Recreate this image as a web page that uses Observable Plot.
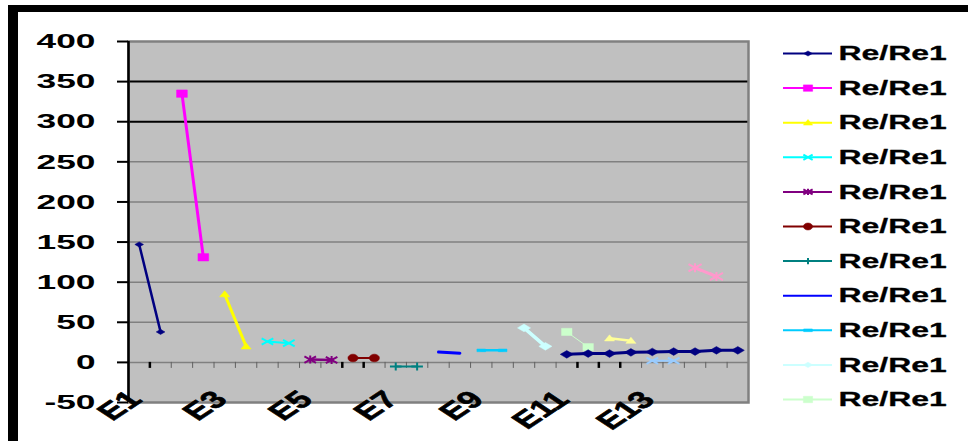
<!DOCTYPE html>
<html>
<head>
<meta charset="utf-8">
<script src="https://cdn.jsdelivr.net/npm/d3@7"></script>
<script src="https://cdn.jsdelivr.net/npm/@observablehq/plot@0.6"></script>
<style>
  body { margin: 0; background: #fff; }
  #wrap { position: relative; width: 968px; height: 441px; overflow: hidden; background: #fff;
          font-family: "Liberation Sans", Arial, sans-serif; }
  .bar { position: absolute; background: #000; }
  #wrap svg { position: absolute; top: 0; overflow: visible; }
</style>
</head>
<body>
<div id="wrap">
  <div class="bar" style="left:8px;top:5px;width:960px;height:7px"></div>
  <div class="bar" style="left:8px;top:5px;width:10px;height:436px"></div>
</div>
<script>
// ---- data ----
const seriesNames = ["Re/Re1","Re/Re1","Re/Re1","Re/Re1","Re/Re1","Re/Re1","Re/Re1","Re/Re1",
                     "Re/Re1","Re/Re1","Re/Re1","Re/Re1","Re/Re1","Re/Re1","Re/Re1"];
// first category (1-based) of each series
const seriesStart = [1, 3, 5, 7, 9, 11, 13, 15, 17, 19, 21, 23, 25, 27, 21];
const seriesValues = [
  [147, 38],
  [335, 131],
  [85, 20],
  [26, 24],
  [3.5, 3],
  [5.5, 5.5],
  [-5, -5],
  [13, 11.5],
  [15, 15],
  [43, 20],
  [38, 19],
  [30, 27],
  [2, 2],
  [118, 107],
  [10, 11, 11, 12.5, 13, 13.5, 13.5, 15, 15]
];
const categoryCount = 29;
const xLabels = ["E1", "E3", "E5", "E7", "E9", "E11", "E13"];
const xLabelCats = [1, 5, 9, 13, 17, 21, 25];
const yTicks = [-50, 0, 50, 100, 150, 200, 250, 300, 350, 400];
const darkGrid = [300, 350];
const darkTicks = [1, 10, 11, 21, 22, 23];
const legendCount = 11;

// ---- styles ----
const colors = ["#000080","#FF00FF","#FFFF00","#00FFFF","#800080","#800000","#008080","#0000FF",
                "#00CCFF","#CCFFFF","#CCFFCC","#FFFF99","#99CCFF","#FF99CC","#000080"];
const widths = [2.5, 3, 3, 2, 2.5, 2, 2, 3, 2.5, 3.5, 1, 2.5, 2, 3, 3];
const markers = ["diamond","square","triangle","times","star","circle","plus","none",
                 "dash","diamond","square","triangle","times","star","diamond"];
const markerR = [3, 3.7, 3.5, 4, 4, 3.5, 4, 0, 3, 4.5, 3.6, 3.5, 4, 4.5, 4.5];
const FONT = '"Liberation Sans", Arial, sans-serif';
const SX = 1.45; // horizontal widening of markers
const LABEL_SX = 1.5; // horizontal widening of category labels

// marker shapes, slightly wider than tall
const rad = s => Math.sqrt(s / Math.PI);
const symbolDefs = {
  diamond: {draw(c, s) { const r = rad(s); c.moveTo(0, -r * 0.85); c.lineTo(r * SX, 0); c.lineTo(0, r * 0.85); c.lineTo(-r * SX, 0); c.closePath(); }},
  square: {draw(c, s) { const r = rad(s); c.rect(-r * SX, -r, 2 * r * SX, 2 * r); }},
  triangle: {draw(c, s) { const r = rad(s); c.moveTo(0, -r); c.lineTo(r * SX, r * 0.75); c.lineTo(-r * SX, r * 0.75); c.closePath(); }},
  times: {draw(c, s) { const r = rad(s); c.moveTo(-r * SX, -r * 0.8); c.lineTo(r * SX, r * 0.8); c.moveTo(-r * SX, r * 0.8); c.lineTo(r * SX, -r * 0.8); }},
  star: {draw(c, s) { const r = rad(s); c.moveTo(-r * SX, -r * 0.8); c.lineTo(r * SX, r * 0.8); c.moveTo(-r * SX, r * 0.8); c.lineTo(r * SX, -r * 0.8); c.moveTo(0, -r); c.lineTo(0, r); }},
  circle: {draw(c, s) { const r = rad(s), rx = r * SX, ry = r * 1.1, k = 0.5523;
    c.moveTo(rx, 0); c.bezierCurveTo(rx, ry * k, rx * k, ry, 0, ry); c.bezierCurveTo(-rx * k, ry, -rx, ry * k, -rx, 0);
    c.bezierCurveTo(-rx, -ry * k, -rx * k, -ry, 0, -ry); c.bezierCurveTo(rx * k, -ry, rx, -ry * k, rx, 0); c.closePath(); }},
  plus: {draw(c, s) { const r = rad(s); c.moveTo(-r * SX, 0); c.lineTo(r * SX, 0); c.moveTo(0, -r); c.lineTo(0, r); }},
  dash: {draw(c, s) { const r = rad(s); c.rect(-r * SX, -r * 0.45, 2 * r * SX, r * 0.9); }}
};
const strokedMarkers = new Set(["times", "star", "plus"]);

function markerMark(data, k, r, x, y) {
  const m = markers[k];
  if (m === "none") return null;
  const stroked = strokedMarkers.has(m);
  return Plot.dot(data, {
    x, y, r, symbol: symbolDefs[m],
    fill: stroked ? "none" : colors[k],
    stroke: colors[k],
    strokeWidth: stroked ? 2 : 0.5
  });
}

// ---- rows ----
const rows = seriesValues.flatMap((vals, k) =>
  vals.map((v, j) => ({series: k, cat: seriesStart[k] + j, value: v})));
const xTickPos = d3.range(categoryCount + 1);
const xc = d => d.cat - 0.5;

// ---- main chart ----
const marks = [
  Plot.frame({fill: "#c0c0c0"}),
  Plot.ruleY(yTicks.filter(v => v > -50 && v < 400 && !darkGrid.includes(v) && v !== 0), {stroke: "#808080", strokeWidth: 1.5}),
  Plot.ruleY(darkGrid, {stroke: "#000", strokeWidth: 2}),
  Plot.ruleY([0], {stroke: "#808080", strokeWidth: 1.5}),
  Plot.ruleX(xTickPos.filter(t => !darkTicks.includes(t)), {x: d => d, y1: 0, y2: -7.5, stroke: "#606060", strokeWidth: 1}),
  Plot.ruleX(darkTicks, {x: d => d, y1: 0, y2: -7.5, stroke: "#000", strokeWidth: 2.5}),
  Plot.frame({stroke: "#808080", strokeWidth: 2.5}),
  Plot.ruleX([0], {stroke: "#000", strokeWidth: 2.5}),
  Plot.axisY(yTicks, {
    tickSize: 11, tickPadding: 22, stroke: "#000", strokeWidth: 2,
    fontSize: 21, fontWeight: "bold", tickFormat: d => String(d), label: null
  }),
  Plot.text(xLabels, {
    x: (d, i) => xLabelCats[i] - 0.5, y: -50, text: d => d,
    textAnchor: "end", lineAnchor: "middle", rotate: -45, dx: -4, dy: -7,
    fontSize: 24, fontWeight: "bold", fill: "#000", stroke: "#000", strokeWidth: 0.6
  })
];
seriesValues.forEach((vals, k) => {
  const data = rows.filter(d => d.series === k);
  marks.push(Plot.line(data, {x: xc, y: "value", stroke: colors[k], strokeWidth: widths[k]}));
});
seriesValues.forEach((vals, k) => {
  const data = rows.filter(d => d.series === k);
  const m = markerMark(data, k, markerR[k], xc, "value");
  if (m) marks.push(m);
});

const chart = Plot.plot({
  width: 968, height: 441,
  marginLeft: 128, marginRight: 220, marginTop: 41, marginBottom: 39,
  x: {domain: [0, categoryCount], axis: null},
  y: {domain: [-50, 400]},
  style: {background: "transparent", fontFamily: FONT, color: "#000"},
  marks
});

// ---- legend ----
const legendIdx = d3.range(legendCount);
const legendMarks = [];
legendIdx.forEach(k => {
  legendMarks.push(Plot.ruleY([k], {y: d => d, x1: 0, x2: 49, stroke: colors[k], strokeWidth: 2}));
  const m = markerMark([k], k, Math.min(markerR[k], 3.2), () => 24.5, d => d);
  if (m) legendMarks.push(m);
});
legendMarks.push(Plot.text(legendIdx, {
  x: 55, y: d => d, text: d => seriesNames[d], textAnchor: "start", lineAnchor: "middle",
  fontSize: 21, fontWeight: "bold", fill: "#000", stroke: "#000", strokeWidth: 0.3
}));
const legend = Plot.plot({
  width: 185, height: 441,
  marginLeft: 0, marginRight: 0, marginTop: 0, marginBottom: 0,
  x: {domain: [0, 185], range: [0, 185], axis: null},
  y: {domain: [0, legendCount - 1], range: [53, 399], axis: null},
  style: {background: "transparent", fontFamily: FONT, color: "#000"},
  marks: legendMarks
});

const wrap = document.getElementById("wrap");
chart.style.left = "0px";
legend.style.left = "783px";
wrap.appendChild(chart);
wrap.appendChild(legend);

// widen label glyphs
function widen(nodes, factor) {
  nodes.forEach(t => {
    const w = t.getComputedTextLength();
    if (w > 0) {
      t.setAttribute("textLength", (w * factor).toFixed(1));
      t.setAttribute("lengthAdjust", "spacingAndGlyphs");
    }
  });
}
widen(chart.querySelectorAll('g[aria-label="y-axis tick label"] text'), 1.68);
widen(legend.querySelectorAll('text'), 1.52);
chart.querySelectorAll('g[aria-label="text"] text').forEach(t => {
  const tr = t.getAttribute("transform") || "";
  t.setAttribute("transform", tr.replace("rotate(", `scale(${LABEL_SX},1) rotate(`));
});
</script>
</body>
</html>
